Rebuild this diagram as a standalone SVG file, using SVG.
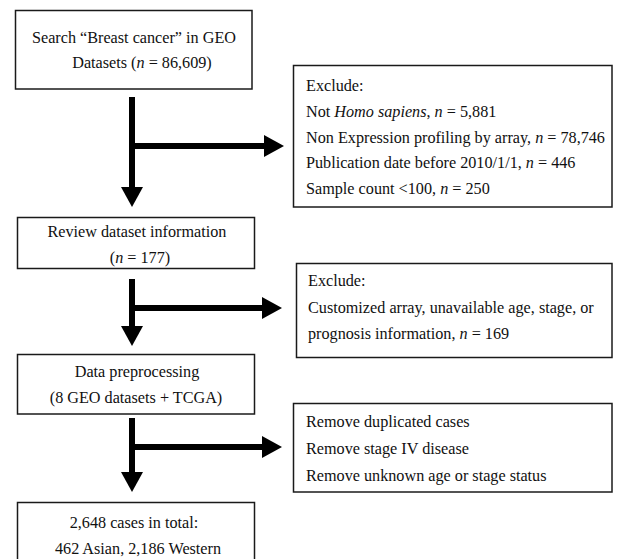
<svg xmlns="http://www.w3.org/2000/svg" width="620" height="559" viewBox="0 0 620 559">
<style>
  .box { fill: #ffffff; stroke: #1a1a1a; stroke-width: 1.5; }
  .t { font-family: "Liberation Serif", "Times New Roman", serif; font-size: 16.2px; fill: #111111; }
  .c { text-anchor: middle; }
  .conn { fill: none; stroke: #000000; stroke-width: 6; }
  .i { font-style: italic; }
</style>
<defs>
  <marker id="head" markerUnits="userSpaceOnUse" markerWidth="20" markerHeight="22" refX="0" refY="11" orient="auto" viewBox="0 0 20 22">
    <path d="M0,0 L20,11 L0,22 z" fill="#000000"/>
  </marker>
</defs>
<rect width="620" height="559" fill="#ffffff"/>

<g id="connectors">
  <path class="conn" d="M132,97 V187" marker-end="url(#head)"/>
  <path class="conn" d="M132,146 H264" marker-end="url(#head)"/>
  <path class="conn" d="M132,279 V326" marker-end="url(#head)"/>
  <path class="conn" d="M132,308 H262" marker-end="url(#head)"/>
  <path class="conn" d="M132,418 V472" marker-end="url(#head)"/>
  <path class="conn" d="M132,447 H262" marker-end="url(#head)"/>
</g>

<g id="search">
  <rect class="box" x="15.5" y="10.5" width="236.5" height="78.5"/>
  <text class="t c" x="134" y="43">Search “Breast cancer” in GEO</text>
  <text class="t c" x="142" y="68">Datasets (<tspan class="i">n</tspan> = 86,609)</text>
</g>

<g id="exclude1">
  <rect class="box" x="293.5" y="65.5" width="318.5" height="141.5"/>
  <text class="t" x="306" y="91">Exclude:</text>
  <text class="t" x="306" y="117">Not <tspan class="i">Homo sapiens</tspan>, <tspan class="i">n</tspan> = 5,881</text>
  <text class="t" x="306" y="143">Non Expression profiling by array, <tspan class="i">n</tspan> = 78,746</text>
  <text class="t" x="306" y="168">Publication date before 2010/1/1, <tspan class="i">n</tspan> = 446</text>
  <text class="t" x="306" y="194">Sample count &lt;100, <tspan class="i">n</tspan> = 250</text>
</g>

<g id="review">
  <rect class="box" x="17.5" y="217.5" width="237" height="51"/>
  <text class="t c" x="137" y="237">Review dataset information</text>
  <text class="t c" x="140" y="263">(<tspan class="i">n</tspan> = 177)</text>
</g>

<g id="exclude2">
  <rect class="box" x="296.5" y="263.5" width="315.5" height="94"/>
  <text class="t" x="308" y="286">Exclude:</text>
  <text class="t" x="308" y="313">Customized array, unavailable age, stage, or</text>
  <text class="t" x="308" y="339">prognosis information, <tspan class="i">n</tspan> = 169</text>
</g>

<g id="preprocess">
  <rect class="box" x="17.5" y="354.5" width="237" height="59.5"/>
  <text class="t c" x="137" y="377">Data preprocessing</text>
  <text class="t c" x="136" y="403">(8 GEO datasets + TCGA)</text>
</g>

<g id="remove">
  <rect class="box" x="293.5" y="403.5" width="318.5" height="88.5"/>
  <text class="t" x="306" y="427">Remove duplicated cases</text>
  <text class="t" x="306" y="454">Remove stage IV disease</text>
  <text class="t" x="306" y="481">Remove unknown age or stage status</text>
</g>

<g id="total">
  <rect class="box" x="17.5" y="502.5" width="237" height="70"/>
  <text class="t c" x="134" y="528">2,648 cases in total:</text>
  <text class="t c" x="138" y="554">462 Asian, 2,186 Western</text>
</g>
</svg>
